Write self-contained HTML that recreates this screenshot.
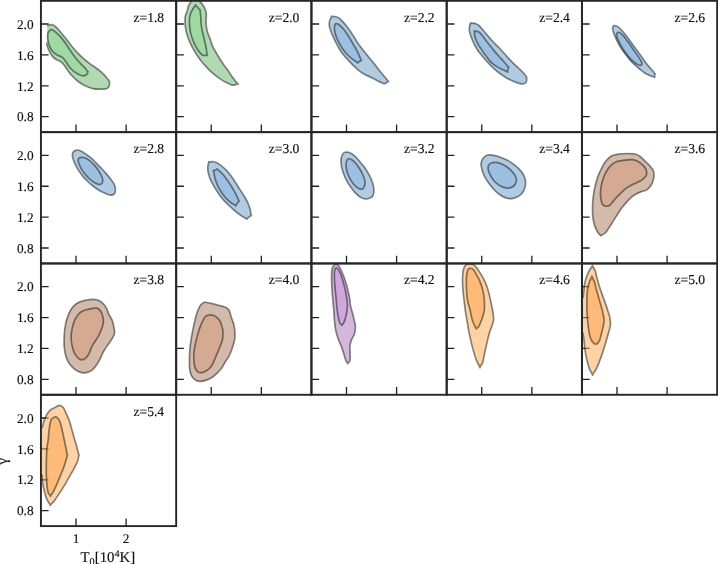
<!DOCTYPE html>
<html><head><meta charset="utf-8"><title>T0-gamma contours</title>
<style>
html,body{margin:0;padding:0;background:#fff;}
body{width:718px;height:564px;overflow:hidden;}
svg{display:block;}
text{stroke:#111;stroke-width:0.15px;text-rendering:geometricPrecision;font-family:"Liberation Serif","DejaVu Serif",serif;fill:#111;}
.tl{font-size:13.3px;}
.zl{font-size:13.6px;}
.ax{font-size:14.85px;}
</style></head><body>
<svg width="718" height="564" viewBox="0 0 718 564">
<rect x="0" y="0" width="718" height="564" fill="#fff"/>

<defs>
<clipPath id="c0"><rect x="40.93" y="0.82" width="135.25" height="131.32"/></clipPath>
<clipPath id="c1"><rect x="176.18" y="0.82" width="135.25" height="131.32"/></clipPath>
<clipPath id="c2"><rect x="311.43" y="0.82" width="135.25" height="131.32"/></clipPath>
<clipPath id="c3"><rect x="446.68" y="0.82" width="135.25" height="131.32"/></clipPath>
<clipPath id="c4"><rect x="581.93" y="0.82" width="135.25" height="131.32"/></clipPath>
<clipPath id="c5"><rect x="40.93" y="132.14" width="135.25" height="131.32"/></clipPath>
<clipPath id="c6"><rect x="176.18" y="132.14" width="135.25" height="131.32"/></clipPath>
<clipPath id="c7"><rect x="311.43" y="132.14" width="135.25" height="131.32"/></clipPath>
<clipPath id="c8"><rect x="446.68" y="132.14" width="135.25" height="131.32"/></clipPath>
<clipPath id="c9"><rect x="581.93" y="132.14" width="135.25" height="131.32"/></clipPath>
<clipPath id="c10"><rect x="40.93" y="263.46" width="135.25" height="131.32"/></clipPath>
<clipPath id="c11"><rect x="176.18" y="263.46" width="135.25" height="131.32"/></clipPath>
<clipPath id="c12"><rect x="311.43" y="263.46" width="135.25" height="131.32"/></clipPath>
<clipPath id="c13"><rect x="446.68" y="263.46" width="135.25" height="131.32"/></clipPath>
<clipPath id="c14"><rect x="581.93" y="263.46" width="135.25" height="131.32"/></clipPath>
<clipPath id="c15"><rect x="40.93" y="394.78" width="135.25" height="131.32"/></clipPath>
</defs>
<path d="M40.93 24.02h7.70M40.93 54.92h7.70M40.93 85.82h7.70M40.93 116.67h7.70M76.00 132.14v-7.70M126.09 132.14v-7.70" stroke="#222" stroke-width="1.3" fill="none"/>
<path d="M176.18 24.02h7.70M176.18 54.92h7.70M176.18 85.82h7.70M176.18 116.67h7.70M211.25 132.14v-7.70M261.34 132.14v-7.70" stroke="#222" stroke-width="1.3" fill="none"/>
<path d="M311.43 24.02h7.70M311.43 54.92h7.70M311.43 85.82h7.70M311.43 116.67h7.70M346.50 132.14v-7.70M396.59 132.14v-7.70" stroke="#222" stroke-width="1.3" fill="none"/>
<path d="M446.68 24.02h7.70M446.68 54.92h7.70M446.68 85.82h7.70M446.68 116.67h7.70M481.75 132.14v-7.70M531.84 132.14v-7.70" stroke="#222" stroke-width="1.3" fill="none"/>
<path d="M581.93 24.02h7.70M581.93 54.92h7.70M581.93 85.82h7.70M581.93 116.67h7.70M617.00 132.14v-7.70M667.09 132.14v-7.70" stroke="#222" stroke-width="1.3" fill="none"/>
<path d="M40.93 155.34h7.70M40.93 186.24h7.70M40.93 217.14h7.70M40.93 247.99h7.70M76.00 263.46v-7.70M126.09 263.46v-7.70" stroke="#222" stroke-width="1.3" fill="none"/>
<path d="M176.18 155.34h7.70M176.18 186.24h7.70M176.18 217.14h7.70M176.18 247.99h7.70M211.25 263.46v-7.70M261.34 263.46v-7.70" stroke="#222" stroke-width="1.3" fill="none"/>
<path d="M311.43 155.34h7.70M311.43 186.24h7.70M311.43 217.14h7.70M311.43 247.99h7.70M346.50 263.46v-7.70M396.59 263.46v-7.70" stroke="#222" stroke-width="1.3" fill="none"/>
<path d="M446.68 155.34h7.70M446.68 186.24h7.70M446.68 217.14h7.70M446.68 247.99h7.70M481.75 263.46v-7.70M531.84 263.46v-7.70" stroke="#222" stroke-width="1.3" fill="none"/>
<path d="M581.93 155.34h7.70M581.93 186.24h7.70M581.93 217.14h7.70M581.93 247.99h7.70M617.00 263.46v-7.70M667.09 263.46v-7.70" stroke="#222" stroke-width="1.3" fill="none"/>
<path d="M40.93 286.66h7.70M40.93 317.56h7.70M40.93 348.46h7.70M40.93 379.31h7.70M76.00 394.78v-7.70M126.09 394.78v-7.70" stroke="#222" stroke-width="1.3" fill="none"/>
<path d="M176.18 286.66h7.70M176.18 317.56h7.70M176.18 348.46h7.70M176.18 379.31h7.70M211.25 394.78v-7.70M261.34 394.78v-7.70" stroke="#222" stroke-width="1.3" fill="none"/>
<path d="M311.43 286.66h7.70M311.43 317.56h7.70M311.43 348.46h7.70M311.43 379.31h7.70M346.50 394.78v-7.70M396.59 394.78v-7.70" stroke="#222" stroke-width="1.3" fill="none"/>
<path d="M446.68 286.66h7.70M446.68 317.56h7.70M446.68 348.46h7.70M446.68 379.31h7.70M481.75 394.78v-7.70M531.84 394.78v-7.70" stroke="#222" stroke-width="1.3" fill="none"/>
<path d="M581.93 286.66h7.70M581.93 317.56h7.70M581.93 348.46h7.70M581.93 379.31h7.70M617.00 394.78v-7.70M667.09 394.78v-7.70" stroke="#222" stroke-width="1.3" fill="none"/>
<path d="M40.93 417.98h7.70M40.93 448.88h7.70M40.93 479.78h7.70M40.93 510.63h7.70M76.00 526.10v-7.70M126.09 526.10v-7.70" stroke="#222" stroke-width="1.3" fill="none"/>
<g clip-path="url(#c0)">
<path d="M47.90 25.52C48.11 25.43 48.48 25.14 49.15 25.01C49.82 24.89 50.93 24.55 51.91 24.76C52.89 24.97 53.89 25.39 55.04 26.27C56.19 27.14 57.13 28.15 58.80 30.03C60.47 31.91 62.98 34.94 65.07 37.55C67.16 40.16 69.25 43.15 71.34 45.70C73.43 48.25 75.52 50.65 77.60 52.84C79.69 55.03 81.78 57.02 83.87 58.86C85.96 60.70 88.05 62.31 90.14 63.87C92.23 65.44 94.32 66.69 96.41 68.26C98.50 69.83 100.79 71.50 102.67 73.27C104.55 75.05 106.54 77.45 107.69 78.91C108.84 80.38 109.36 80.79 109.57 82.05C109.78 83.30 109.46 85.33 108.94 86.43C108.42 87.54 107.90 88.23 106.43 88.69C104.97 89.15 102.47 89.19 100.17 89.19C97.87 89.19 95.15 89.25 92.65 88.69C90.14 88.13 87.42 86.92 85.13 85.81C82.83 84.70 80.74 83.41 78.86 82.05C76.98 80.69 75.52 79.33 73.84 77.66C72.17 75.99 70.29 73.90 68.83 72.02C67.37 70.14 66.32 68.05 65.07 66.38C63.82 64.71 62.77 63.14 61.31 61.99C59.85 60.84 57.76 60.42 56.30 59.48C54.83 58.54 53.68 57.71 52.53 56.35C51.39 54.99 50.28 53.05 49.40 51.34C48.52 49.62 47.71 47.41 47.27 46.07C46.83 44.74 46.85 43.77 46.77 43.31L47.08 43.06 L47.14 25.89Z" fill="#65B169" fill-opacity="0.50" stroke="none"/>
<path d="M47.90 25.52C48.11 25.43 48.48 25.14 49.15 25.01C49.82 24.89 50.93 24.55 51.91 24.76C52.89 24.97 53.89 25.39 55.04 26.27C56.19 27.14 57.13 28.15 58.80 30.03C60.47 31.91 62.98 34.94 65.07 37.55C67.16 40.16 69.25 43.15 71.34 45.70C73.43 48.25 75.52 50.65 77.60 52.84C79.69 55.03 81.78 57.02 83.87 58.86C85.96 60.70 88.05 62.31 90.14 63.87C92.23 65.44 94.32 66.69 96.41 68.26C98.50 69.83 100.79 71.50 102.67 73.27C104.55 75.05 106.54 77.45 107.69 78.91C108.84 80.38 109.36 80.79 109.57 82.05C109.78 83.30 109.46 85.33 108.94 86.43C108.42 87.54 107.90 88.23 106.43 88.69C104.97 89.15 102.47 89.19 100.17 89.19C97.87 89.19 95.15 89.25 92.65 88.69C90.14 88.13 87.42 86.92 85.13 85.81C82.83 84.70 80.74 83.41 78.86 82.05C76.98 80.69 75.52 79.33 73.84 77.66C72.17 75.99 70.29 73.90 68.83 72.02C67.37 70.14 66.32 68.05 65.07 66.38C63.82 64.71 62.77 63.14 61.31 61.99C59.85 60.84 57.76 60.42 56.30 59.48C54.83 58.54 53.68 57.71 52.53 56.35C51.39 54.99 50.28 53.05 49.40 51.34C48.52 49.62 47.71 47.41 47.27 46.07C46.83 44.74 46.85 43.77 46.77 43.31" fill="none" stroke="#000" stroke-opacity="0.46" stroke-width="1.70" stroke-linejoin="round" stroke-linecap="round"/>
<path d="M48.15 32.53C48.63 31.76 49.92 30.19 50.65 29.78C51.39 29.36 51.66 29.61 52.53 30.03C53.41 30.45 54.56 31.14 55.92 32.28C57.28 33.43 59.03 35.00 60.68 36.92C62.33 38.84 64.13 41.41 65.82 43.82C67.51 46.22 69.16 48.93 70.84 51.34C72.51 53.74 74.18 56.14 75.85 58.23C77.52 60.32 79.30 62.18 80.86 63.87C82.43 65.56 84.10 67.09 85.25 68.38C86.40 69.68 87.34 71.10 87.76 71.64C88.18 72.19 87.86 71.23 87.76 71.64C87.65 72.06 87.88 73.44 87.13 74.15C86.38 74.86 84.62 75.84 83.25 75.91C81.87 75.97 80.42 75.28 78.86 74.53C77.29 73.77 75.41 72.65 73.84 71.39C72.28 70.14 70.81 68.68 69.46 67.01C68.10 65.33 66.85 62.93 65.70 61.36C64.55 59.80 63.71 58.54 62.56 57.60C61.41 56.66 60.16 56.46 58.80 55.72C57.44 54.99 55.67 54.26 54.42 53.22C53.16 52.17 52.18 50.92 51.28 49.46C50.38 47.99 49.61 46.22 49.03 44.44C48.44 42.67 47.98 40.47 47.77 38.80C47.56 37.13 47.71 35.46 47.77 34.42C47.83 33.37 47.67 33.31 48.15 32.53Z" fill="#8EDA92" fill-opacity="0.50" stroke="#000" stroke-opacity="0.46" stroke-width="1.70" stroke-linejoin="round"/>
</g>
<g clip-path="url(#c1)">
<path d="M192.31 -1.25C193.61 -1.75 197.53 -1.75 198.83 -1.25C200.13 -0.75 199.42 0.71 200.08 1.75C200.75 2.80 201.94 3.64 202.84 5.01C203.74 6.39 204.89 8.36 205.47 10.03C206.06 11.70 206.27 13.37 206.35 15.04C206.43 16.71 205.97 18.18 205.97 20.06C205.97 21.94 206.08 24.23 206.35 26.32C206.62 28.41 206.98 30.50 207.60 32.59C208.23 34.68 209.44 36.98 210.11 38.86C210.78 40.74 210.99 42.22 211.62 43.87C212.24 45.52 212.76 46.70 213.87 48.77C214.98 50.84 216.80 53.89 218.26 56.30C219.72 58.70 221.08 60.89 222.65 63.19C224.21 65.49 225.99 67.68 227.66 70.08C229.33 72.49 231.00 75.31 232.67 77.60C234.35 79.90 236.85 82.83 237.69 83.87C238.52 84.92 238.11 83.70 237.69 83.87C237.27 84.04 236.23 84.71 235.18 84.87C234.14 85.04 232.88 85.25 231.42 84.87C229.96 84.50 228.29 83.62 226.41 82.62C224.53 81.62 222.44 80.42 220.14 78.86C217.84 77.29 214.92 75.20 212.62 73.22C210.32 71.23 208.23 68.93 206.35 66.95C204.47 64.97 202.90 63.29 201.34 61.31C199.77 59.32 198.31 57.11 196.95 55.04C195.59 52.97 194.34 50.96 193.19 48.89C192.04 46.82 191.00 44.71 190.06 42.62C189.12 40.53 188.28 38.65 187.55 36.35C186.82 34.05 186.09 31.13 185.67 28.83C185.25 26.53 185.10 24.65 185.04 22.56C184.98 20.47 184.92 18.28 185.29 16.30C185.67 14.31 186.71 12.53 187.30 10.65C187.88 8.77 188.18 6.50 188.80 5.01C189.43 3.53 190.47 2.80 191.06 1.75C191.64 0.71 191.02 -0.75 192.31 -1.25Z" fill="#65B169" fill-opacity="0.50" stroke="#000" stroke-opacity="0.46" stroke-width="1.70" stroke-linejoin="round"/>
<path d="M195.70 5.26C196.01 4.89 194.97 4.43 195.70 5.26C196.43 6.10 199.35 9.44 200.08 10.28C200.81 11.11 199.98 9.28 200.08 10.28C200.19 11.28 200.54 14.04 200.71 16.30C200.88 18.55 200.81 21.31 201.09 23.82C201.36 26.32 201.78 28.62 202.34 31.34C202.90 34.05 203.80 37.19 204.47 40.11C205.14 43.04 205.93 46.38 206.35 48.89C206.77 51.39 206.87 54.11 206.98 55.15C207.08 56.20 207.67 55.15 206.98 55.15C206.29 55.15 204.20 55.78 202.84 55.15C201.48 54.53 200.13 53.06 198.83 51.39C197.53 49.72 196.22 47.42 195.07 45.13C193.92 42.83 192.77 40.11 191.94 37.60C191.10 35.10 190.47 32.59 190.06 30.08C189.64 27.58 189.47 24.86 189.43 22.56C189.39 20.26 189.45 18.18 189.81 16.30C190.16 14.42 190.89 12.74 191.56 11.28C192.23 9.82 193.13 8.52 193.82 7.52C194.51 6.52 195.38 5.64 195.70 5.26Z" fill="#8EDA92" fill-opacity="0.50" stroke="#000" stroke-opacity="0.46" stroke-width="1.70" stroke-linejoin="round"/>
</g>
<g clip-path="url(#c2)">
<path d="M331.74 16.42C332.09 15.68 331.04 16.37 331.74 16.42C332.43 16.47 334.63 16.38 335.90 16.70C337.17 17.02 338.22 17.52 339.36 18.33C340.50 19.14 341.58 20.31 342.73 21.56C343.88 22.81 345.09 24.31 346.28 25.82C347.46 27.32 348.67 28.97 349.82 30.60C350.98 32.23 352.10 33.90 353.20 35.59C354.30 37.29 355.25 39.00 356.41 40.79C357.57 42.58 358.75 44.42 360.14 46.31C361.53 48.21 363.16 50.18 364.75 52.16C366.35 54.14 368.12 56.24 369.72 58.19C371.32 60.15 372.86 62.02 374.35 63.89C375.84 65.77 377.17 67.54 378.66 69.44C380.15 71.35 381.70 73.36 383.30 75.32C384.90 77.27 387.43 80.20 388.26 81.17C389.09 82.15 388.56 80.92 388.26 81.17C387.97 81.42 387.20 82.26 386.49 82.68C385.78 83.09 384.42 83.49 384.01 83.65C383.59 83.82 384.80 83.99 384.01 83.65C383.21 83.31 380.85 82.38 379.22 81.61C377.59 80.85 375.97 79.91 374.26 79.04C372.54 78.17 370.65 77.24 368.94 76.38C367.22 75.53 365.54 74.79 363.97 73.90C362.41 73.01 360.96 72.13 359.54 71.06C358.12 70.00 356.84 68.80 355.43 67.49C354.03 66.18 352.62 64.70 351.13 63.18C349.64 61.66 347.97 60.03 346.49 58.37C345.01 56.71 343.53 55.00 342.23 53.23C340.93 51.45 339.78 49.59 338.69 47.73C337.59 45.87 336.64 43.98 335.67 42.06C334.71 40.13 333.76 38.11 332.92 36.18C332.07 34.24 331.20 32.24 330.59 30.45C329.98 28.67 329.42 27.06 329.26 25.46C329.09 23.86 329.20 22.36 329.61 20.85C330.02 19.34 331.38 17.16 331.74 16.42Z" fill="#6197C5" fill-opacity="0.50" stroke="#000" stroke-opacity="0.46" stroke-width="1.70" stroke-linejoin="round"/>
<path d="M334.72 25.20C334.98 24.38 335.40 23.84 335.99 23.69C336.59 23.54 337.40 23.79 338.30 24.31C339.20 24.83 340.31 25.71 341.40 26.79C342.49 27.87 343.75 29.34 344.86 30.78C345.97 32.22 347.05 33.84 348.06 35.42C349.07 37.00 349.93 38.59 350.91 40.26C351.89 41.93 352.93 43.68 353.94 45.43C354.94 47.17 356.03 49.00 356.95 50.74C357.87 52.49 358.72 54.26 359.43 55.89C360.14 57.51 360.91 59.73 361.21 60.50C361.50 61.26 361.80 60.14 361.21 60.50C360.61 60.85 358.25 62.27 357.66 62.62C357.07 62.98 358.58 63.24 357.66 62.62C356.74 62.00 353.91 60.26 352.16 58.90C350.42 57.54 348.74 56.09 347.20 54.47C345.66 52.84 344.24 50.98 342.94 49.15C341.64 47.32 340.43 45.34 339.40 43.48C338.36 41.61 337.45 39.71 336.73 37.95C336.01 36.20 335.47 34.50 335.08 32.93C334.69 31.37 334.48 29.85 334.41 28.56C334.35 27.27 334.45 26.01 334.72 25.20Z" fill="#8AB5DE" fill-opacity="0.50" stroke="#000" stroke-opacity="0.46" stroke-width="1.70" stroke-linejoin="round"/>
</g>
<g clip-path="url(#c3)">
<path d="M470.64 23.11C470.85 22.41 469.96 23.06 470.64 23.11C471.32 23.15 473.45 23.05 474.72 23.37C475.99 23.70 477.14 24.25 478.26 25.06C479.39 25.86 480.36 27.01 481.45 28.20C482.55 29.38 483.67 30.81 484.82 32.18C485.98 33.56 487.19 35.05 488.37 36.44C489.55 37.83 490.70 39.19 491.91 40.52C493.13 41.85 494.34 43.09 495.64 44.42C496.94 45.75 498.35 47.07 499.72 48.50C501.08 49.92 502.37 51.31 503.85 52.95C505.32 54.59 506.79 56.41 508.56 58.31C510.33 60.21 512.54 62.47 514.47 64.36C516.40 66.26 518.53 68.11 520.14 69.68C521.75 71.25 523.07 72.55 524.13 73.76C525.20 74.97 526.13 76.42 526.52 76.95C526.92 77.48 526.51 76.33 526.52 76.95C526.54 77.57 526.80 79.65 526.60 80.67C526.39 81.69 526.03 82.54 525.32 83.07C524.61 83.60 523.55 83.87 522.36 83.87C521.17 83.87 519.71 83.51 518.19 83.07C516.67 82.62 514.88 81.90 513.23 81.21C511.57 80.51 509.83 79.73 508.26 78.90C506.70 78.07 505.34 77.22 503.83 76.24C502.32 75.27 500.79 74.23 499.22 73.05C497.65 71.87 495.91 70.45 494.43 69.15C492.95 67.85 491.73 66.67 490.34 65.23C488.94 63.79 487.57 62.25 486.05 60.50C484.52 58.74 482.60 56.43 481.21 54.71C479.81 52.99 478.67 51.60 477.68 50.18C476.68 48.76 476.05 47.68 475.25 46.19C474.44 44.70 473.59 42.91 472.85 41.23C472.12 39.54 471.38 37.71 470.82 36.09C470.25 34.46 469.72 32.95 469.49 31.48C469.25 30.00 469.21 28.65 469.40 27.26C469.59 25.86 470.43 23.80 470.64 23.11Z" fill="#6197C5" fill-opacity="0.50" stroke="#000" stroke-opacity="0.46" stroke-width="1.70" stroke-linejoin="round"/>
<path d="M474.54 31.12C474.54 30.54 473.99 31.06 474.54 31.12C475.09 31.18 476.80 31.06 477.82 31.48C478.84 31.89 479.70 32.63 480.66 33.60C481.62 34.58 482.53 35.97 483.58 37.33C484.63 38.69 485.80 40.27 486.95 41.76C488.10 43.25 489.31 44.80 490.50 46.28C491.68 47.76 492.67 49.01 494.04 50.62C495.41 52.24 496.99 54.03 498.71 55.96C500.42 57.90 502.69 60.37 504.31 62.21C505.93 64.06 507.75 66.22 508.44 67.02C509.13 67.82 508.62 66.25 508.44 67.02C508.26 67.79 507.55 70.86 507.38 71.63C507.20 72.40 508.48 72.10 507.38 71.63C506.27 71.16 502.83 69.84 500.73 68.79C498.63 67.75 496.52 66.54 494.79 65.34C493.06 64.14 491.79 63.14 490.34 61.60C488.88 60.05 487.58 58.19 486.05 56.06C484.51 53.94 482.54 51.01 481.12 48.86C479.69 46.71 478.43 44.87 477.50 43.18C476.57 41.49 476.01 40.18 475.51 38.74C475.02 37.31 474.70 35.85 474.54 34.58C474.38 33.31 474.54 31.70 474.54 31.12Z" fill="#8AB5DE" fill-opacity="0.50" stroke="#000" stroke-opacity="0.46" stroke-width="1.70" stroke-linejoin="round"/>
</g>
<g clip-path="url(#c4)">
<path d="M614.07 25.65C615.01 25.34 616.78 25.97 618.20 26.91C619.62 27.85 621.02 29.52 622.59 31.30C624.16 33.07 625.93 35.37 627.60 37.56C629.28 39.76 630.95 42.16 632.62 44.46C634.29 46.75 635.96 49.05 637.63 51.35C639.30 53.65 640.97 55.95 642.65 58.25C644.32 60.54 645.99 63.05 647.66 65.14C649.33 67.23 651.46 69.36 652.67 70.78C653.89 72.20 654.55 73.18 654.93 73.66C655.31 74.14 654.99 73.10 654.93 73.66C654.87 74.23 654.62 76.48 654.55 77.05C654.49 77.61 655.29 77.26 654.55 77.05C653.82 76.84 651.73 76.42 650.17 75.79C648.60 75.17 646.82 74.33 645.15 73.29C643.48 72.24 641.81 70.88 640.14 69.53C638.47 68.17 636.80 66.71 635.13 65.14C633.45 63.57 631.78 62.01 630.11 60.13C628.44 58.25 626.66 55.95 625.10 53.86C623.53 51.77 622.07 49.78 620.71 47.59C619.35 45.40 617.99 42.79 616.95 40.70C615.91 38.61 615.17 37.04 614.44 35.06C613.71 33.07 612.63 30.36 612.56 28.79C612.50 27.22 613.13 25.97 614.07 25.65Z" fill="#6197C5" fill-opacity="0.50" stroke="#000" stroke-opacity="0.46" stroke-width="1.70" stroke-linejoin="round"/>
<path d="M616.95 33.18C617.43 32.65 618.41 32.13 619.46 32.55C620.50 32.97 621.86 34.22 623.22 35.68C624.58 37.14 626.14 39.34 627.60 41.32C629.07 43.31 630.53 45.50 631.99 47.59C633.45 49.68 635.02 51.87 636.38 53.86C637.74 55.84 639.20 57.93 640.14 59.50C641.08 61.07 641.85 62.28 642.02 63.26C642.19 64.24 641.87 65.18 641.14 65.39C640.41 65.60 638.95 65.18 637.63 64.51C636.32 63.84 634.71 62.63 633.25 61.38C631.78 60.13 630.32 58.66 628.86 56.99C627.40 55.32 625.83 53.34 624.47 51.35C623.11 49.37 621.82 47.07 620.71 45.08C619.60 43.10 618.52 41.01 617.83 39.44C617.14 37.88 616.72 36.73 616.57 35.68C616.43 34.64 616.47 33.70 616.95 33.18Z" fill="#8AB5DE" fill-opacity="0.50" stroke="#000" stroke-opacity="0.46" stroke-width="1.70" stroke-linejoin="round"/>
</g>
<g clip-path="url(#c5)">
<path d="M76.32 150.04C77.74 149.83 79.67 150.56 81.34 151.30C83.01 152.03 84.68 153.28 86.35 154.43C88.02 155.58 89.69 156.73 91.36 158.19C93.04 159.65 94.71 161.53 96.38 163.20C98.05 164.87 99.72 166.44 101.39 168.22C103.06 169.99 104.74 171.87 106.41 173.86C108.08 175.84 110.06 178.25 111.42 180.13C112.78 182.01 113.89 183.47 114.55 185.14C115.22 186.81 115.49 188.69 115.43 190.15C115.37 191.62 114.95 193.08 114.18 193.91C113.41 194.75 112.30 195.27 110.79 195.17C109.29 195.06 107.14 194.12 105.15 193.29C103.17 192.45 100.97 191.41 98.89 190.15C96.80 188.90 94.60 187.33 92.62 185.77C90.63 184.20 88.75 182.53 86.98 180.75C85.20 178.98 83.53 177.10 81.96 175.11C80.40 173.13 78.83 170.93 77.58 168.84C76.32 166.75 75.28 164.56 74.44 162.58C73.61 160.59 72.83 158.61 72.56 156.94C72.29 155.26 72.19 153.70 72.81 152.55C73.44 151.40 74.90 150.25 76.32 150.04Z" fill="#6197C5" fill-opacity="0.50" stroke="#000" stroke-opacity="0.46" stroke-width="1.70" stroke-linejoin="round"/>
<path d="M80.08 157.56C81.17 157.29 83.13 157.31 84.72 157.81C86.31 158.31 88.04 159.40 89.61 160.57C91.18 161.74 92.64 163.18 94.12 164.83C95.61 166.48 97.26 168.57 98.51 170.47C99.76 172.37 100.93 174.51 101.64 176.24C102.35 177.97 102.86 179.56 102.77 180.88C102.69 182.19 102.10 183.64 101.14 184.14C100.18 184.64 98.43 184.35 97.01 183.89C95.58 183.43 94.08 182.42 92.62 181.38C91.16 180.33 89.69 179.08 88.23 177.62C86.77 176.16 85.10 174.28 83.84 172.60C82.59 170.93 81.59 169.26 80.71 167.59C79.83 165.92 79.00 163.93 78.58 162.58C78.16 161.22 77.95 160.28 78.20 159.44C78.45 158.61 79.00 157.83 80.08 157.56Z" fill="#8AB5DE" fill-opacity="0.50" stroke="#000" stroke-opacity="0.46" stroke-width="1.70" stroke-linejoin="round"/>
</g>
<g clip-path="url(#c6)">
<path d="M209.03 161.90C209.24 161.21 208.30 161.93 209.03 161.90C209.75 161.87 211.98 161.53 213.37 161.72C214.76 161.92 216.02 162.36 217.36 163.05C218.71 163.75 220.05 164.78 221.44 165.89C222.83 167.00 224.31 168.30 225.70 169.70C227.08 171.11 228.47 172.69 229.77 174.31C231.07 175.94 232.28 177.68 233.50 179.45C234.71 181.23 235.93 183.21 237.04 184.95C238.16 186.69 239.20 188.36 240.18 189.89C241.16 191.41 241.96 192.56 242.91 194.09C243.85 195.61 244.91 197.25 245.87 199.02C246.82 200.79 247.87 202.83 248.61 204.70C249.36 206.56 249.91 208.42 250.33 210.19C250.76 211.96 251.01 214.48 251.15 215.33C251.28 216.19 251.88 214.74 251.15 215.33C250.42 215.92 247.48 218.29 246.75 218.88C246.02 219.47 247.49 219.29 246.75 218.88C246.01 218.47 243.86 217.37 242.32 216.40C240.78 215.42 239.13 214.27 237.53 213.03C235.94 211.79 234.28 210.31 232.74 208.95C231.21 207.59 229.76 206.26 228.31 204.87C226.86 203.48 225.46 202.20 224.06 200.62C222.65 199.04 221.24 197.24 219.89 195.39C218.54 193.53 217.17 191.38 215.96 189.48C214.74 187.57 213.54 185.62 212.61 183.95C211.68 182.28 210.97 180.88 210.36 179.45C209.75 178.03 209.35 176.82 208.94 175.38C208.53 173.93 208.07 172.32 207.88 170.77C207.68 169.21 207.60 167.54 207.79 166.07C207.98 164.59 208.82 162.60 209.03 161.90Z" fill="#6197C5" fill-opacity="0.50" stroke="#000" stroke-opacity="0.46" stroke-width="1.70" stroke-linejoin="round"/>
<path d="M213.64 170.77C213.48 169.82 213.05 171.03 213.64 170.77C214.23 170.51 216.59 169.47 217.18 169.21C217.78 168.95 216.59 168.72 217.18 169.21C217.78 169.70 219.55 171.02 220.73 172.15C221.91 173.28 223.09 174.54 224.28 176.00C225.46 177.45 226.62 179.12 227.82 180.87C229.03 182.63 230.31 184.61 231.49 186.52C232.68 188.42 233.95 190.52 234.93 192.31C235.90 194.10 236.68 195.78 237.35 197.25C238.03 198.72 238.68 200.50 238.95 201.15C239.22 201.80 239.48 200.44 238.95 201.15C238.42 201.86 236.29 204.70 235.76 205.40C235.23 206.11 236.54 205.85 235.76 205.40C234.98 204.96 232.63 203.87 231.06 202.74C229.49 201.62 227.85 200.23 226.36 198.67C224.87 197.10 223.38 195.17 222.11 193.35C220.83 191.52 219.68 189.58 218.70 187.70C217.73 185.83 216.92 183.96 216.24 182.09C215.56 180.21 215.05 178.33 214.61 176.44C214.18 174.55 213.80 171.71 213.64 170.77Z" fill="#8AB5DE" fill-opacity="0.50" stroke="#000" stroke-opacity="0.46" stroke-width="1.70" stroke-linejoin="round"/>
</g>
<g clip-path="url(#c7)">
<path d="M345.08 152.28C346.23 151.97 347.80 151.87 349.47 152.53C351.14 153.20 353.34 154.73 355.11 156.30C356.89 157.86 358.45 159.95 360.13 161.94C361.80 163.92 363.57 165.91 365.14 168.20C366.71 170.50 368.27 173.22 369.53 175.72C370.78 178.23 371.93 180.84 372.66 183.25C373.39 185.65 373.87 188.05 373.91 190.14C373.96 192.23 373.64 194.42 372.91 195.78C372.18 197.14 370.82 197.76 369.53 198.29C368.23 198.81 366.71 199.12 365.14 198.91C363.57 198.70 361.80 198.08 360.13 197.03C358.45 195.99 356.68 194.32 355.11 192.65C353.54 190.97 352.19 189.09 350.72 187.01C349.26 184.92 347.59 182.51 346.34 180.11C345.08 177.71 344.04 175.10 343.20 172.59C342.37 170.08 341.68 167.37 341.32 165.07C340.97 162.77 340.86 160.58 341.07 158.80C341.28 157.03 341.91 155.50 342.58 154.42C343.25 153.33 343.93 152.60 345.08 152.28Z" fill="#6197C5" fill-opacity="0.50" stroke="#000" stroke-opacity="0.46" stroke-width="1.70" stroke-linejoin="round"/>
<path d="M347.84 159.05C348.68 158.64 350.03 158.74 351.35 159.43C352.67 160.12 354.28 161.52 355.74 163.19C357.20 164.86 358.87 167.37 360.13 169.46C361.38 171.55 362.42 173.64 363.26 175.72C364.09 177.81 364.99 180.11 365.14 181.99C365.29 183.87 364.66 185.81 364.14 187.01C363.61 188.20 362.99 188.93 362.01 189.14C361.02 189.35 359.60 189.03 358.25 188.26C356.89 187.49 355.22 186.07 353.86 184.50C352.50 182.93 351.18 180.84 350.10 178.86C349.01 176.87 348.01 174.58 347.34 172.59C346.67 170.61 346.25 168.73 346.09 166.95C345.92 165.17 346.04 163.25 346.34 161.94C346.63 160.62 347.01 159.47 347.84 159.05Z" fill="#8AB5DE" fill-opacity="0.50" stroke="#000" stroke-opacity="0.46" stroke-width="1.70" stroke-linejoin="round"/>
</g>
<g clip-path="url(#c8)">
<path d="M487.59 155.04C489.37 154.56 491.77 154.92 493.86 155.29C495.95 155.67 498.04 156.55 500.13 157.30C502.21 158.05 504.30 158.76 506.39 159.81C508.48 160.85 510.57 162.06 512.66 163.57C514.75 165.07 517.15 167.01 518.93 168.83C520.70 170.65 522.23 172.49 523.31 174.47C524.40 176.46 525.17 178.54 525.45 180.74C525.72 182.93 525.51 185.54 524.94 187.63C524.38 189.72 523.38 191.71 522.06 193.27C520.75 194.84 518.82 196.14 517.05 197.03C515.27 197.93 513.39 198.56 511.41 198.66C509.42 198.77 507.12 198.35 505.14 197.66C503.15 196.97 501.38 195.88 499.50 194.53C497.62 193.17 495.63 191.39 493.86 189.51C492.08 187.63 490.41 185.44 488.84 183.25C487.28 181.05 485.61 178.65 484.46 176.35C483.31 174.05 482.51 171.65 481.95 169.46C481.39 167.26 480.86 165.07 481.07 163.19C481.28 161.31 482.12 159.53 483.20 158.18C484.29 156.82 485.81 155.52 487.59 155.04Z" fill="#6197C5" fill-opacity="0.50" stroke="#000" stroke-opacity="0.46" stroke-width="1.70" stroke-linejoin="round"/>
<path d="M493.23 162.56C494.69 162.44 496.89 162.29 498.87 162.81C500.86 163.34 503.15 164.48 505.14 165.70C507.12 166.91 509.11 168.41 510.78 170.08C512.45 171.75 514.23 173.95 515.17 175.72C516.11 177.50 516.53 179.17 516.42 180.74C516.32 182.31 515.48 183.98 514.54 185.13C513.60 186.27 512.24 187.17 510.78 187.63C509.32 188.09 507.54 188.20 505.77 187.88C503.99 187.57 501.90 186.73 500.13 185.75C498.35 184.77 496.57 183.45 495.11 181.99C493.65 180.53 492.44 178.75 491.35 176.98C490.26 175.20 489.12 173.11 488.59 171.34C488.07 169.56 487.97 167.62 488.22 166.32C488.47 165.03 489.26 164.19 490.10 163.57C490.93 162.94 491.77 162.69 493.23 162.56Z" fill="#8AB5DE" fill-opacity="0.50" stroke="#000" stroke-opacity="0.46" stroke-width="1.70" stroke-linejoin="round"/>
</g>
<g clip-path="url(#c9)">
<path d="M592.53 207.67C592.60 204.56 592.79 200.99 593.16 197.65C593.54 194.30 594.06 190.96 594.79 187.62C595.52 184.28 596.46 180.72 597.55 177.59C598.64 174.46 599.95 171.53 601.31 168.82C602.67 166.10 604.03 163.43 605.70 161.30C607.37 159.16 609.14 157.24 611.34 156.03C613.53 154.82 616.14 154.44 618.86 154.03C621.57 153.61 624.92 153.52 627.63 153.52C630.35 153.52 633.06 153.52 635.15 154.03C637.24 154.53 638.50 155.32 640.17 156.53C641.84 157.74 643.51 159.67 645.18 161.30C646.85 162.92 648.84 164.74 650.19 166.31C651.55 167.88 652.70 169.03 653.33 170.70C653.96 172.37 654.06 174.46 653.96 176.34C653.85 178.22 653.33 180.31 652.70 181.98C652.08 183.65 651.24 185.01 650.19 186.36C649.15 187.72 647.90 189.25 646.43 190.13C644.97 191.00 643.30 190.90 641.42 191.63C639.54 192.36 637.03 193.41 635.15 194.51C633.27 195.62 631.81 196.71 630.14 198.27C628.47 199.84 626.80 201.93 625.13 203.91C623.45 205.90 621.99 207.48 620.11 210.18C618.23 212.88 615.62 217.30 613.84 220.10C612.07 222.90 610.92 224.80 609.46 226.99C607.99 229.19 606.53 231.84 605.07 233.26C603.61 234.68 601.41 235.14 600.68 235.52C599.95 235.89 601.20 236.10 600.68 235.52C600.16 234.93 598.59 233.74 597.55 232.01C596.50 230.27 595.21 227.72 594.42 225.11C593.62 222.50 593.10 219.24 592.79 216.34C592.47 213.43 592.47 210.79 592.53 207.67Z" fill="#A97555" fill-opacity="0.50" stroke="#000" stroke-opacity="0.46" stroke-width="1.70" stroke-linejoin="round"/>
<path d="M602.56 204.54C601.73 203.12 601.00 200.05 600.68 197.65C600.37 195.24 600.41 192.84 600.68 190.13C600.95 187.41 601.48 184.28 602.31 181.35C603.15 178.43 604.30 175.19 605.70 172.58C607.10 169.97 608.83 167.52 610.71 165.68C612.59 163.84 614.58 162.49 616.98 161.55C619.38 160.61 622.31 160.33 625.13 160.04C627.95 159.75 631.60 159.48 633.90 159.79C636.20 160.10 637.35 160.94 638.91 161.92C640.48 162.90 642.09 164.32 643.30 165.68C644.51 167.04 645.66 168.50 646.18 170.07C646.71 171.64 646.92 173.62 646.43 175.08C645.95 176.55 644.66 177.69 643.30 178.84C641.94 179.99 640.06 181.04 638.29 181.98C636.51 182.92 634.53 183.54 632.65 184.48C630.77 185.42 628.89 186.26 627.01 187.62C625.13 188.98 623.14 190.96 621.36 192.63C619.59 194.30 617.81 196.08 616.35 197.65C614.89 199.21 613.74 200.74 612.59 202.03C611.44 203.33 610.61 204.73 609.46 205.42C608.31 206.11 606.85 206.32 605.70 206.17C604.55 206.02 603.40 205.96 602.56 204.54Z" fill="#D49A7A" fill-opacity="0.50" stroke="#000" stroke-opacity="0.46" stroke-width="1.70" stroke-linejoin="round"/>
</g>
<g clip-path="url(#c10)">
<path d="M64.05 340.14C64.12 336.81 64.32 332.41 64.81 328.86C65.29 325.31 65.95 321.96 66.94 318.83C67.92 315.70 69.13 312.56 70.70 310.06C72.26 307.55 74.14 305.36 76.34 303.79C78.53 302.22 81.35 301.39 83.86 300.65C86.36 299.92 89.08 299.51 91.38 299.40C93.68 299.30 95.77 299.40 97.65 300.03C99.53 300.65 101.20 301.80 102.66 303.16C104.12 304.52 105.38 306.30 106.42 308.18C107.47 310.06 107.99 312.46 108.93 314.44C109.87 316.43 111.27 318.10 112.06 320.08C112.86 322.07 113.27 324.16 113.69 326.35C114.11 328.54 114.84 331.17 114.57 333.25C114.30 335.32 113.21 336.83 112.06 338.80C110.91 340.77 109.14 342.88 107.67 345.07C106.21 347.26 104.54 349.67 103.29 351.96C102.03 354.26 101.30 356.66 100.15 358.86C99.00 361.05 97.75 363.25 96.39 365.13C95.03 367.01 93.68 368.89 92.01 370.14C90.33 371.39 88.25 372.27 86.36 372.65C84.48 373.02 82.60 372.92 80.72 372.40C78.84 371.87 76.86 370.83 75.08 369.51C73.31 368.20 71.53 366.48 70.07 364.50C68.61 362.51 67.25 360.22 66.31 357.60C65.37 354.99 64.81 351.74 64.43 348.83C64.05 345.92 63.99 343.47 64.05 340.14Z" fill="#A97555" fill-opacity="0.50" stroke="#000" stroke-opacity="0.46" stroke-width="1.70" stroke-linejoin="round"/>
<path d="M71.07 336.38C71.14 333.47 71.66 330.42 72.33 327.60C72.99 324.78 73.89 321.86 75.08 319.46C76.27 317.05 77.80 314.76 79.47 313.19C81.14 311.62 83.13 310.83 85.11 310.06C87.10 309.28 89.39 308.86 91.38 308.55C93.36 308.24 95.45 307.72 97.02 308.18C98.59 308.64 99.80 309.85 100.78 311.31C101.76 312.77 102.49 314.97 102.91 316.95C103.33 318.93 103.54 321.13 103.29 323.22C103.04 325.31 102.24 327.29 101.41 329.48C100.57 331.68 99.84 333.57 98.27 336.38C96.71 339.19 93.57 343.41 92.01 346.32C90.44 349.23 89.92 351.86 88.87 353.84C87.83 355.83 86.89 357.23 85.74 358.23C84.59 359.23 83.23 359.86 81.98 359.86C80.72 359.86 79.47 359.34 78.22 358.23C76.96 357.12 75.50 355.41 74.46 353.22C73.41 351.02 72.51 347.88 71.95 345.07C71.39 342.26 71.01 339.29 71.07 336.38Z" fill="#D49A7A" fill-opacity="0.50" stroke="#000" stroke-opacity="0.46" stroke-width="1.70" stroke-linejoin="round"/>
</g>
<g clip-path="url(#c11)">
<path d="M191.04 340.14C191.55 336.81 192.13 333.45 192.80 330.11C193.47 326.77 194.26 323.22 195.06 320.08C195.85 316.95 196.62 313.82 197.56 311.31C198.50 308.80 199.55 306.55 200.70 305.04C201.85 303.54 202.89 302.60 204.46 302.28C206.02 301.97 207.90 302.70 210.10 303.16C212.29 303.62 215.22 304.42 217.62 305.04C220.02 305.67 222.63 306.09 224.51 306.92C226.39 307.76 227.75 308.28 228.90 310.06C230.05 311.83 230.57 315.07 231.41 317.58C232.24 320.08 233.33 322.59 233.91 325.10C234.50 327.60 234.81 330.13 234.92 332.62C235.02 335.11 235.02 337.34 234.54 340.04C234.06 342.74 232.97 346.10 232.03 348.82C231.09 351.53 230.05 354.14 228.90 356.34C227.75 358.53 226.29 360.10 225.14 361.98C223.99 363.86 223.26 365.84 222.01 367.62C220.75 369.39 219.19 371.07 217.62 372.63C216.05 374.20 214.38 375.81 212.60 377.02C210.83 378.23 208.95 379.17 206.96 379.90C204.98 380.63 202.58 381.36 200.70 381.41C198.82 381.45 197.14 380.99 195.68 380.15C194.22 379.32 192.90 378.06 191.92 376.39C190.94 374.72 190.21 372.84 189.79 370.13C189.37 367.41 189.42 363.44 189.42 360.10C189.42 356.75 189.52 353.40 189.79 350.07C190.06 346.74 190.54 343.47 191.04 340.14Z" fill="#A97555" fill-opacity="0.50" stroke="#000" stroke-opacity="0.46" stroke-width="1.70" stroke-linejoin="round"/>
<path d="M195.68 342.65C196.37 339.53 197.25 335.75 198.19 332.62C199.13 329.48 200.17 326.46 201.32 323.84C202.47 321.23 203.83 318.41 205.08 316.95C206.34 315.49 207.49 315.34 208.84 315.07C210.20 314.80 211.77 314.80 213.23 315.32C214.69 315.84 216.36 316.99 217.62 318.20C218.87 319.42 219.96 320.81 220.75 322.59C221.55 324.37 222.03 327.62 222.38 328.86C222.74 330.10 222.84 328.36 222.88 330.01C222.92 331.67 223.09 336.07 222.63 338.79C222.17 341.50 221.07 343.80 220.13 346.31C219.19 348.82 218.04 351.32 216.99 353.83C215.95 356.34 214.90 359.16 213.86 361.35C212.81 363.54 211.98 365.42 210.72 366.99C209.47 368.56 207.90 369.81 206.34 370.75C204.77 371.69 202.79 372.49 201.32 372.63C199.86 372.78 198.61 372.47 197.56 371.63C196.52 370.79 195.68 369.54 195.06 367.62C194.43 365.70 193.97 362.81 193.80 360.10C193.64 357.38 193.74 354.23 194.05 351.32C194.37 348.41 194.99 345.76 195.68 342.65Z" fill="#D49A7A" fill-opacity="0.50" stroke="#000" stroke-opacity="0.46" stroke-width="1.70" stroke-linejoin="round"/>
</g>
<g clip-path="url(#c12)">
<path d="M332.81 299.36C332.50 295.71 332.14 291.64 331.94 288.08C331.73 284.53 331.56 280.98 331.56 278.06C331.56 275.13 331.66 272.52 331.94 270.53C332.21 268.55 332.56 267.19 333.19 266.15C333.82 265.10 334.80 264.33 335.70 264.27C336.59 264.20 337.64 264.73 338.58 265.77C339.52 266.82 340.46 268.70 341.34 270.53C342.21 272.37 343.01 274.50 343.84 276.80C344.68 279.10 345.62 281.82 346.35 284.32C347.08 286.83 347.65 289.34 348.23 291.84C348.82 294.35 349.51 297.17 349.86 299.36C350.22 301.56 350.01 303.03 350.36 305.01C350.72 307.00 351.41 308.98 351.99 311.28C352.58 313.58 353.31 316.30 353.87 318.80C354.44 321.31 355.27 323.82 355.38 326.32C355.48 328.83 355.17 331.55 354.50 333.84C353.83 336.14 352.14 338.02 351.36 340.11C350.59 342.20 350.07 344.08 349.86 346.38C349.65 348.68 350.11 351.50 350.11 353.90C350.11 356.30 350.28 359.23 349.86 360.79C349.44 362.36 347.98 362.88 347.60 363.30C347.23 363.72 347.92 363.82 347.60 363.30C347.29 362.78 346.35 361.73 345.72 360.17C345.10 358.60 344.58 356.20 343.84 353.90C343.11 351.60 342.28 348.89 341.34 346.38C340.40 343.87 339.14 341.57 338.20 338.86C337.26 336.14 336.32 333.22 335.70 330.08C335.07 326.95 334.76 323.40 334.44 320.06C334.13 316.71 334.09 313.48 333.82 310.03C333.54 306.58 333.13 303.02 332.81 299.36Z" fill="#A971B9" fill-opacity="0.50" stroke="#000" stroke-opacity="0.46" stroke-width="1.70" stroke-linejoin="round"/>
<path d="M335.70 268.03C336.32 267.61 337.37 268.24 338.20 269.28C339.04 270.33 339.87 272.21 340.71 274.30C341.55 276.38 342.49 279.31 343.22 281.82C343.95 284.32 344.53 286.83 345.10 289.34C345.66 291.84 346.23 294.35 346.60 296.86C346.98 299.36 347.29 302.08 347.35 304.38C347.42 306.68 347.25 308.56 346.98 310.65C346.71 312.74 346.25 314.93 345.72 316.91C345.20 318.90 344.47 321.20 343.84 322.55C343.22 323.91 342.28 324.64 341.96 325.06C341.65 325.48 342.32 325.37 341.96 325.06C341.61 324.75 340.46 324.54 339.83 323.18C339.21 321.82 338.68 319.42 338.20 316.91C337.72 314.41 337.31 311.27 336.95 308.14C336.59 305.01 336.39 301.45 336.07 298.11C335.76 294.77 335.34 291.22 335.07 288.08C334.80 284.95 334.55 282.03 334.44 279.31C334.34 276.59 334.23 273.67 334.44 271.79C334.65 269.91 335.07 268.45 335.70 268.03Z" fill="#CC94DC" fill-opacity="0.50" stroke="#000" stroke-opacity="0.46" stroke-width="1.70" stroke-linejoin="round"/>
</g>
<g clip-path="url(#c13)">
<path d="M463.82 298.11C463.38 294.25 463.02 291.43 462.81 288.08C462.60 284.74 462.50 280.98 462.56 278.06C462.63 275.13 462.77 272.58 463.19 270.53C463.61 268.49 464.23 266.86 465.07 265.77C465.91 264.69 466.85 264.23 468.20 264.02C469.56 263.81 471.86 263.95 473.22 264.52C474.58 265.08 475.20 265.98 476.35 267.40C477.50 268.82 478.86 271.06 480.11 273.04C481.36 275.03 482.72 277.01 483.87 279.31C485.02 281.61 486.07 284.11 487.01 286.83C487.95 289.55 488.78 292.68 489.51 295.60C490.24 298.53 490.85 301.77 491.39 304.38C491.94 306.99 492.40 308.85 492.77 311.25C493.15 313.65 493.67 316.69 493.65 318.77C493.63 320.86 493.34 321.49 492.65 323.79C491.96 326.09 490.45 329.43 489.51 332.56C488.57 335.70 487.84 339.04 487.01 342.59C486.17 346.14 485.23 350.53 484.50 353.87C483.77 357.21 483.39 360.45 482.62 362.65C481.85 364.84 480.32 366.30 479.86 367.03C479.40 367.76 480.45 368.18 479.86 367.03C479.28 365.88 477.46 362.96 476.35 360.14C475.24 357.32 474.16 353.45 473.22 350.11C472.28 346.77 471.48 343.43 470.71 340.08C469.94 336.74 469.21 333.40 468.58 330.06C467.95 326.71 467.47 323.16 466.95 320.03C466.43 316.89 465.97 314.91 465.45 311.25C464.92 307.60 464.25 301.97 463.82 298.11Z" fill="#FBA54B" fill-opacity="0.50" stroke="#000" stroke-opacity="0.46" stroke-width="1.70" stroke-linejoin="round"/>
<path d="M466.95 273.04C467.26 271.16 467.58 270.08 468.20 269.28C468.83 268.49 469.81 268.17 470.71 268.28C471.61 268.38 472.55 268.70 473.59 269.91C474.64 271.12 475.89 273.56 476.98 275.55C478.06 277.53 479.17 279.52 480.11 281.82C481.05 284.11 481.95 286.62 482.62 289.34C483.29 292.05 483.81 295.19 484.12 298.11C484.44 301.04 484.54 304.49 484.50 306.89C484.46 309.29 484.29 310.53 483.87 312.51C483.45 314.49 482.83 316.48 481.99 318.77C481.16 321.07 479.80 324.67 478.86 326.30C477.92 327.92 476.77 328.18 476.35 328.55C475.93 328.93 476.66 329.03 476.35 328.55C476.04 328.07 475.20 327.30 474.47 325.67C473.74 324.04 472.69 321.39 471.96 318.77C471.23 316.16 470.81 313.03 470.08 310.00C469.35 306.97 468.16 303.85 467.58 300.62C466.99 297.38 466.78 293.93 466.57 290.59C466.36 287.25 466.26 283.49 466.32 280.56C466.39 277.64 466.64 274.92 466.95 273.04Z" fill="#FDA24B" fill-opacity="0.50" stroke="#000" stroke-opacity="0.46" stroke-width="1.70" stroke-linejoin="round"/>
</g>
<g clip-path="url(#c14)">
<path d="M577.52 299.36C578.36 293.83 581.49 299.57 582.53 298.11C583.58 296.65 583.37 293.31 583.79 290.59C584.21 287.87 584.42 284.53 585.04 281.82C585.67 279.10 586.71 276.38 587.55 274.30C588.38 272.21 589.22 270.64 590.06 269.28C590.89 267.92 592.14 266.67 592.56 266.15C592.98 265.63 592.14 265.42 592.56 266.15C592.98 266.88 594.34 268.55 595.07 270.53C595.80 272.52 596.22 275.34 596.95 278.06C597.68 280.77 598.52 283.91 599.46 286.83C600.40 289.75 601.55 292.68 602.59 295.60C603.64 298.53 604.78 301.66 605.72 304.38C606.66 307.09 607.54 309.71 608.23 311.90C608.92 314.09 609.51 315.33 609.86 317.52C610.22 319.71 610.63 322.33 610.36 325.04C610.09 327.76 609.00 330.89 608.23 333.82C607.46 336.74 606.66 339.46 605.72 342.59C604.78 345.72 603.64 349.48 602.59 352.62C601.55 355.75 600.50 358.68 599.46 361.39C598.41 364.11 597.47 366.72 596.32 368.91C595.17 371.11 593.19 373.61 592.56 374.55C591.94 375.49 593.08 375.49 592.56 374.55C592.04 373.61 590.37 371.32 589.43 368.91C588.49 366.51 587.65 363.27 586.92 360.14C586.19 357.01 585.52 353.25 585.04 350.11C584.56 346.98 584.46 344.26 584.04 341.34C583.62 338.41 583.62 334.23 582.53 332.56C581.45 330.89 578.36 336.84 577.52 331.31C576.69 325.78 576.69 304.90 577.52 299.36Z" fill="#FBA54B" fill-opacity="0.50" stroke="#000" stroke-opacity="0.46" stroke-width="1.70" stroke-linejoin="round"/>
<path d="M591.94 276.80C592.35 275.97 591.52 275.97 591.94 276.80C592.35 277.64 593.71 279.73 594.44 281.82C595.17 283.91 595.59 286.62 596.32 289.34C597.05 292.05 597.99 295.19 598.83 298.11C599.67 301.04 600.61 304.17 601.34 306.89C602.07 309.60 602.76 312.22 603.22 314.41C603.68 316.60 604.09 318.05 604.09 320.03C604.09 322.01 603.68 324.00 603.22 326.30C602.76 328.59 601.96 331.41 601.34 333.82C600.71 336.22 600.29 339.00 599.46 340.71C598.62 342.42 597.37 343.78 596.32 344.09C595.28 344.41 594.23 343.78 593.19 342.59C592.14 341.40 590.83 339.25 590.06 336.95C589.28 334.65 588.97 331.62 588.55 328.80C588.13 325.98 587.82 323.16 587.55 320.03C587.28 316.89 587.03 313.44 586.92 310.00C586.82 306.56 586.82 302.81 586.92 299.36C587.03 295.92 587.13 292.26 587.55 289.34C587.97 286.41 588.70 283.91 589.43 281.82C590.16 279.73 591.52 277.64 591.94 276.80Z" fill="#FDA24B" fill-opacity="0.50" stroke="#000" stroke-opacity="0.46" stroke-width="1.70" stroke-linejoin="round"/>
</g>
<g clip-path="url(#c15)">
<path d="M36.27 428.86C37.21 421.15 40.65 428.86 41.91 427.60C43.16 426.35 42.95 423.53 43.79 421.34C44.62 419.14 45.88 416.32 46.92 414.44C47.97 412.56 48.70 411.20 50.06 410.06C51.41 408.91 53.50 408.34 55.07 407.55C56.64 406.75 58.10 405.29 59.46 405.29C60.81 405.29 62.07 406.13 63.22 407.55C64.37 408.97 65.31 411.52 66.35 413.82C67.40 416.11 68.54 418.62 69.48 421.34C70.42 424.05 71.16 427.19 71.99 430.11C72.83 433.04 73.66 435.96 74.50 438.89C75.33 441.81 76.27 444.97 77.01 447.66C77.74 450.35 78.57 453.80 78.89 455.03C79.20 456.26 79.09 453.98 78.89 455.03C78.68 456.07 78.47 459.00 77.63 461.30C76.80 463.59 75.33 466.10 73.87 468.82C72.41 471.53 70.53 474.67 68.86 477.59C67.19 480.52 65.62 483.44 63.84 486.36C62.07 489.29 59.87 492.63 58.20 495.14C56.53 497.65 55.13 499.78 53.82 501.41C52.50 503.04 50.89 504.33 50.31 504.92C49.72 505.50 50.87 505.81 50.31 504.92C49.74 504.02 47.90 501.78 46.92 499.53C45.94 497.27 45.15 494.20 44.42 491.38C43.68 488.56 42.95 485.32 42.53 482.60C42.12 479.89 42.95 476.55 41.91 475.08C40.86 473.62 37.21 481.53 36.27 473.83C35.33 466.13 35.33 436.56 36.27 428.86Z" fill="#FBA54B" fill-opacity="0.50" stroke="#000" stroke-opacity="0.46" stroke-width="1.70" stroke-linejoin="round"/>
<path d="M51.31 419.46C51.98 418.20 52.98 417.99 53.82 417.58C54.65 417.16 55.38 416.43 56.32 416.95C57.26 417.47 58.58 418.93 59.46 420.71C60.33 422.49 60.96 425.20 61.59 427.60C62.21 430.01 62.67 432.62 63.22 435.13C63.76 437.63 64.32 440.14 64.85 442.65C65.37 445.15 65.93 448.10 66.35 450.17C66.77 452.23 67.19 454.22 67.35 455.03C67.52 455.84 67.63 453.98 67.35 455.03C67.08 456.07 66.41 459.00 65.72 461.30C65.03 463.59 64.16 466.31 63.22 468.82C62.28 471.32 61.13 473.83 60.08 476.34C59.04 478.84 57.99 481.46 56.95 483.86C55.91 486.26 54.86 488.77 53.82 490.75C52.77 492.74 51.20 494.93 50.68 495.77C50.16 496.60 51.10 496.29 50.68 495.77C50.26 495.24 48.80 494.41 48.18 492.63C47.55 490.86 47.24 488.04 46.92 485.11C46.61 482.19 46.40 478.43 46.30 475.08C46.19 471.74 46.25 468.40 46.30 465.06C46.34 461.71 46.44 457.95 46.55 455.03C46.65 452.10 46.65 449.99 46.92 447.51C47.19 445.03 47.86 442.62 48.18 440.14C48.49 437.66 48.53 435.13 48.80 432.62C49.07 430.11 49.39 427.29 49.81 425.10C50.22 422.90 50.64 420.71 51.31 419.46Z" fill="#FDA24B" fill-opacity="0.50" stroke="#000" stroke-opacity="0.46" stroke-width="1.70" stroke-linejoin="round"/>
</g>
<rect x="40.93" y="0.82" width="135.25" height="131.32" fill="none" stroke="#262626" stroke-width="1.9"/>
<text class="zl" x="164.18" y="21.82" text-anchor="end">z=1.8</text>
<rect x="176.18" y="0.82" width="135.25" height="131.32" fill="none" stroke="#262626" stroke-width="1.9"/>
<text class="zl" x="299.43" y="21.82" text-anchor="end">z=2.0</text>
<rect x="311.43" y="0.82" width="135.25" height="131.32" fill="none" stroke="#262626" stroke-width="1.9"/>
<text class="zl" x="434.68" y="21.82" text-anchor="end">z=2.2</text>
<rect x="446.68" y="0.82" width="135.25" height="131.32" fill="none" stroke="#262626" stroke-width="1.9"/>
<text class="zl" x="569.93" y="21.82" text-anchor="end">z=2.4</text>
<rect x="581.93" y="0.82" width="135.25" height="131.32" fill="none" stroke="#262626" stroke-width="1.9"/>
<text class="zl" x="705.18" y="21.82" text-anchor="end">z=2.6</text>
<rect x="40.93" y="132.14" width="135.25" height="131.32" fill="none" stroke="#262626" stroke-width="1.9"/>
<text class="zl" x="164.18" y="153.14" text-anchor="end">z=2.8</text>
<rect x="176.18" y="132.14" width="135.25" height="131.32" fill="none" stroke="#262626" stroke-width="1.9"/>
<text class="zl" x="299.43" y="153.14" text-anchor="end">z=3.0</text>
<rect x="311.43" y="132.14" width="135.25" height="131.32" fill="none" stroke="#262626" stroke-width="1.9"/>
<text class="zl" x="434.68" y="153.14" text-anchor="end">z=3.2</text>
<rect x="446.68" y="132.14" width="135.25" height="131.32" fill="none" stroke="#262626" stroke-width="1.9"/>
<text class="zl" x="569.93" y="153.14" text-anchor="end">z=3.4</text>
<rect x="581.93" y="132.14" width="135.25" height="131.32" fill="none" stroke="#262626" stroke-width="1.9"/>
<text class="zl" x="705.18" y="153.14" text-anchor="end">z=3.6</text>
<rect x="40.93" y="263.46" width="135.25" height="131.32" fill="none" stroke="#262626" stroke-width="1.9"/>
<text class="zl" x="164.18" y="284.46" text-anchor="end">z=3.8</text>
<rect x="176.18" y="263.46" width="135.25" height="131.32" fill="none" stroke="#262626" stroke-width="1.9"/>
<text class="zl" x="299.43" y="284.46" text-anchor="end">z=4.0</text>
<rect x="311.43" y="263.46" width="135.25" height="131.32" fill="none" stroke="#262626" stroke-width="1.9"/>
<text class="zl" x="434.68" y="284.46" text-anchor="end">z=4.2</text>
<rect x="446.68" y="263.46" width="135.25" height="131.32" fill="none" stroke="#262626" stroke-width="1.9"/>
<text class="zl" x="569.93" y="284.46" text-anchor="end">z=4.6</text>
<rect x="581.93" y="263.46" width="135.25" height="131.32" fill="none" stroke="#262626" stroke-width="1.9"/>
<text class="zl" x="705.18" y="284.46" text-anchor="end">z=5.0</text>
<rect x="40.93" y="394.78" width="135.25" height="131.32" fill="none" stroke="#262626" stroke-width="1.9"/>
<text class="zl" x="164.18" y="415.78" text-anchor="end">z=5.4</text>
<text class="tl" x="33.6" y="28.72" text-anchor="end">2.0</text>
<text class="tl" x="33.6" y="59.62" text-anchor="end">1.6</text>
<text class="tl" x="33.6" y="90.52" text-anchor="end">1.2</text>
<text class="tl" x="33.6" y="121.37" text-anchor="end">0.8</text>
<text class="tl" x="33.6" y="160.04" text-anchor="end">2.0</text>
<text class="tl" x="33.6" y="190.94" text-anchor="end">1.6</text>
<text class="tl" x="33.6" y="221.84" text-anchor="end">1.2</text>
<text class="tl" x="33.6" y="252.69" text-anchor="end">0.8</text>
<text class="tl" x="33.6" y="291.36" text-anchor="end">2.0</text>
<text class="tl" x="33.6" y="322.26" text-anchor="end">1.6</text>
<text class="tl" x="33.6" y="353.16" text-anchor="end">1.2</text>
<text class="tl" x="33.6" y="384.01" text-anchor="end">0.8</text>
<text class="tl" x="33.6" y="422.68" text-anchor="end">2.0</text>
<text class="tl" x="33.6" y="453.58" text-anchor="end">1.6</text>
<text class="tl" x="33.6" y="484.48" text-anchor="end">1.2</text>
<text class="tl" x="33.6" y="515.33" text-anchor="end">0.8</text>
<text class="tl" x="76.00" y="542.7" text-anchor="middle">1</text>
<text class="tl" x="126.09" y="542.7" text-anchor="middle">2</text>
<text class="ax" x="107.9" y="562.2" text-anchor="middle">T<tspan font-size="10.2px" dy="2.6">0</tspan><tspan dy="-2.6">[10</tspan><tspan font-size="10.2px" dy="-5.2">4</tspan><tspan dy="5.2">K]</tspan></text>
<text class="ax" transform="translate(6.6,461.3) rotate(-90)" text-anchor="middle">γ</text>
</svg></body></html>
